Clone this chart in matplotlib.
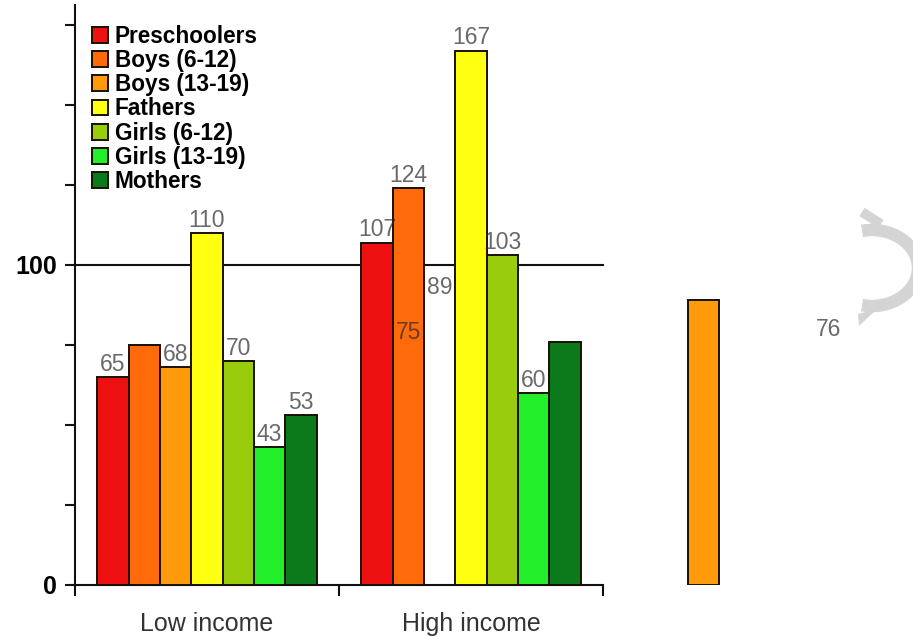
import matplotlib
matplotlib.use("Agg")
import matplotlib.pyplot as plt
from matplotlib.patches import Arc, Polygon
from matplotlib.lines import Line2D

plt.rcParams['font.family'] = ['Liberation Sans', 'DejaVu Sans']

# Data
groups = ["Low income", "High income"]
series = ["Preschoolers", "Boys (6-12)", "Boys (13-19)", "Fathers",
          "Girls (6-12)", "Girls (13-19)", "Mothers"]
low_income = [65, 75, 68, 110, 70, 43, 53]
high_income = [107, 124, 89, 167, 103, 60, 76]
colors = ["#ee1111", "#ff6a0a", "#ff9a0a", "#ffff12",
          "#99cc0a", "#22ee2a", "#0a7a1a"]

values = [low_income, high_income]

# Some bars / value labels sit one group slot to the right of their own group
bar_slot_shift = {(1, 2): 1}
label_slot_shift = {(0, 1): 1, (1, 6): 1}

W, H, DPI = 9.13, 6.37, 100
fig = plt.figure(figsize=(W, H), dpi=DPI)

left_px, bottom_px, top_px = 75, 52, 5
ax_w_px = 913 - left_px
ax_h_px = 637 - bottom_px - top_px
ax = fig.add_axes([left_px / 913, bottom_px / 637, ax_w_px / 913, ax_h_px / 637])

slot_px = 264.0
px_per_unit = 3.2
ax.set_xlim(0, ax_w_px / slot_px)
ax.set_ylim(0, ax_h_px / px_per_unit)

bar_w = 31.3 / slot_px
n = len(series)

for si, name in enumerate(series):
    xs, hs = [], []
    for gi in range(len(groups)):
        slot = gi + bar_slot_shift.get((gi, si), 0)
        xs.append(slot + 0.5 + (si - (n - 1) / 2) * bar_w)
        hs.append(values[gi][si])
    ax.bar(xs, hs, width=bar_w, color=colors[si], edgecolor="#1a1000",
           linewidth=1.4, label=name, zorder=3)

# value labels
for gi in range(len(groups)):
    for si in range(n):
        slot = gi + label_slot_shift.get((gi, si), 0)
        x = slot + 0.5 + (si - (n - 1) / 2) * bar_w
        v = values[gi][si]
        ax.text(x, v + 0.4, f"{v}", ha="center", va="bottom", fontsize=16.5,
                color="#2a2a2a", alpha=0.7, zorder=5)

# reference line at 100
ax.plot([0, len(groups)], [100, 100], color="#111111", linewidth=1.5, zorder=1)

# axes styling
for s in ("top", "right"):
    ax.spines[s].set_visible(False)
ax.spines["left"].set_linewidth(1.5)
ax.spines["bottom"].set_linewidth(1.5)
ax.spines["left"].set_color("#111111")
ax.spines["bottom"].set_color("#111111")
ax.spines["bottom"].set_bounds(-0.01, len(groups))

yt = list(range(0, 176, 25))
ax.set_yticks(yt)
ax.set_yticklabels([str(t) if t in (0, 100) else "" for t in yt],
                   fontsize=18, fontweight="bold")
ax.tick_params(axis="y", direction="out", length=7, width=1.5, pad=6,
               color="#111111")

ax.set_xticks([0, 1, 2])
ax.set_xticklabels(["", "", ""])
ax.tick_params(axis="x", which="major", direction="out", length=8, width=1.5,
               color="#111111")
ax.set_xticks([0.5, 1.5], minor=True)
ax.set_xticklabels(groups, minor=True, fontsize=18, color="#333333")
ax.tick_params(axis="x", which="minor", length=0, pad=19.5)

leg = ax.legend(loc="upper left",
                bbox_to_anchor=((92 - left_px) / ax_w_px, 1 - 20 / ax_h_px),
                frameon=False, borderpad=0, borderaxespad=0,
                handlelength=0.7, handleheight=0.7, handletextpad=0.3,
                labelspacing=0.05, prop={"weight": "bold", "size": 16.3})

# faint watermark glyph at the right edge
wm = fig.add_axes([0, 0, 1, 1], zorder=10)
wm.set_xlim(0, 913)
wm.set_ylim(637, 0)
wm.axis("off")
wm.patch.set_alpha(0)
gray = "#d4d4d4"
wm.add_patch(Arc((872, 268), 92, 76, theta1=-105, theta2=105,
                 color=gray, linewidth=9))
wm.add_line(Line2D([862, 881], [212, 224], color=gray, linewidth=7,
                   solid_capstyle="butt"))
wm.add_patch(Polygon([[858, 314], [877, 309], [859, 326]], closed=True,
                     color=gray, linewidth=0))

fig.savefig("out.png", dpi=DPI)
